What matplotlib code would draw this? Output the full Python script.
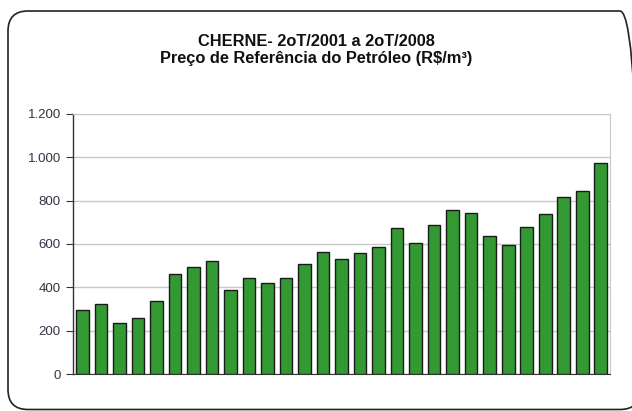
import matplotlib
matplotlib.use("Agg")
import matplotlib.pyplot as plt
from matplotlib.patches import FancyBboxPatch
from matplotlib.ticker import FuncFormatter

plt.rcParams['font.family'] = ['Liberation Sans', 'DejaVu Sans']

# quarterly reference price, 2Q/2001 .. 2Q/2008
quarters = ['2T01', '3T01', '4T01',
            '1T02', '2T02', '3T02', '4T02',
            '1T03', '2T03', '3T03', '4T03',
            '1T04', '2T04', '3T04', '4T04',
            '1T05', '2T05', '3T05', '4T05',
            '1T06', '2T06', '3T06', '4T06',
            '1T07', '2T07', '3T07', '4T07',
            '1T08', '2T08']
prices = [293, 322, 236, 258, 338, 459, 494, 522, 387, 442, 422, 442, 508, 565,
          529, 559, 588, 672, 602, 686, 758, 743, 637, 594, 680, 737, 815, 844, 973]
yticks = [0, 200, 400, 600, 800, 1000, 1200]

fig = plt.figure(figsize=(6.32, 4.11), dpi=100)

# rounded frame around the whole chart (inches, runs off the right edge)
frame = FancyBboxPatch((0.08, 0.015), 6.32, 3.985, boxstyle="round,pad=0,rounding_size=0.2",
                       transform=fig.dpi_scale_trans, fill=False, edgecolor='#222222',
                       linewidth=1.2)
fig.patches.append(frame)

fig.text(0.5, 1 - 41 / 411, 'CHERNE- 2oT/2001 a 2oT/2008', ha='center', va='center',
         fontsize=11.8, fontweight='bold', color='#111111')
fig.text(0.5, 1 - 58.5 / 411, 'Preço de Referência do Petróleo (R$/m³)', ha='center', va='center',
         fontsize=11.8, fontweight='bold', color='#111111')

ax = fig.add_axes([0.116, 0.090, 0.849, 0.633])
x = list(range(len(prices)))
ax.bar(x, prices, width=0.69, color='#339933', edgecolor='#1a1a1a', linewidth=1.0, zorder=3)

ax.set_xlim(-0.5, len(prices) - 0.5)
ax.set_ylim(0, 1200)
ax.set_yticks(yticks)
ax.yaxis.set_major_formatter(FuncFormatter(lambda v, p: f'{int(v):,}'.replace(',', '.')))
ax.set_xticks([])
ax.grid(axis='y', color='#c8c8c8', linewidth=1.0, zorder=0)
ax.tick_params(axis='y', length=5, width=0.8, labelsize=9.5, color='#333333',
               labelcolor='#333344', pad=4)

ax.spines['top'].set_color('#c8c8c8')
ax.spines['right'].set_color('#c8c8c8')
ax.spines['left'].set_color('#333333')
ax.spines['left'].set_linewidth(1.0)
ax.spines['bottom'].set_color('#333333')
ax.spines['bottom'].set_linewidth(0.8)

fig.savefig('out.png', dpi=100)
